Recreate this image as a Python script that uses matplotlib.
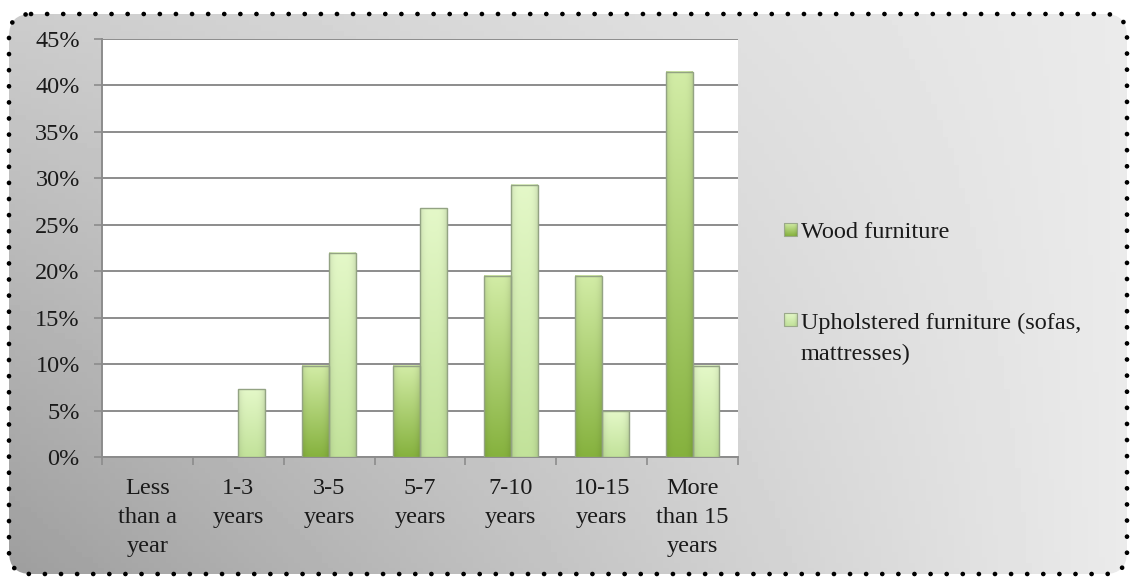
import numpy as np
import matplotlib.pyplot as plt
from matplotlib.patches import FancyBboxPatch, Rectangle
from matplotlib.colors import to_rgb

plt.rcParams['font.family'] = ['Liberation Serif', 'DejaVu Serif']

categories = ['Less\nthan a\nyear', '1-3\nyears', '3-5\nyears', '5-7\nyears',
              '7-10\nyears', '10-15\nyears', 'More\nthan 15\nyears']
wood = [0, 0, 9.8, 9.8, 19.5, 19.5, 41.5]
upholstered = [0, 7.3, 22.0, 26.8, 29.3, 4.9, 9.8]
series_names = ['Wood furniture', 'Upholstered furniture (sofas,\nmattresses)']
yticks = [0, 5, 10, 15, 20, 25, 30, 35, 40, 45]

FS = 17.5


def bar_gradient(bottom, top, n=64):
    # vertical colour ramp with slightly darker sides, like the Excel bevel
    t = np.linspace(1, 0, n)[:, None, None]
    u = np.linspace(-1, 1, 24)[None, :, None]
    c = np.array(to_rgb(bottom)) * (1 - t) + np.array(to_rgb(top)) * t
    c = c * (1 - 0.10 * u ** 4)
    return np.clip(c, 0, 1)


fig = plt.figure(figsize=(11.3, 5.77), dpi=100)

# background panel: grey gradient in a rounded box with a dotted border
bg = fig.add_axes([0, 0, 1, 1])
bg.set_xlim(0, 1130)
bg.set_ylim(577, 0)
bg.axis('off')
xx, yy = np.meshgrid(np.linspace(0, 1, 200), np.linspace(0, 1, 100))
shade = 0.62 + 0.30 * xx + 0.18 * (1 - yy) * (1 - xx)
box = FancyBboxPatch((9, 14), 1118, 560, boxstyle='round,pad=0,rounding_size=22',
                     facecolor='none', edgecolor='none')
bg.add_patch(box)
im = bg.imshow(shade, cmap='gray', vmin=0, vmax=1, extent=(9, 1127, 574, 14),
               aspect='auto', zorder=0)
im.set_clip_path(box)
border = FancyBboxPatch((9, 14), 1118, 560, boxstyle='round,pad=0,rounding_size=22',
                        facecolor='none', edgecolor='black', lw=3.4,
                        linestyle=(0, (0.01, 3.4)), capstyle='round', zorder=2)
bg.add_patch(border)

# legend (marker sits on the first line of each label)
leg_colors = [('#86b23e', '#d2eca6'), ('#c2e29a', '#e4f8c8')]
first_base = [238, 328]
for (c0, c1), name, y in zip(leg_colors, series_names, first_base):
    sq = Rectangle((784, y - 15), 13, 13, facecolor='none', edgecolor='#9aa88a', lw=0.8, zorder=3)
    bg.add_patch(sq)
    bg.imshow(bar_gradient(c0, c1), extent=(784, 797, y - 2, y - 15), aspect='auto', zorder=2)
    last_base = y + 32 * name.count('\n')
    bg.text(801, last_base, name, fontsize=FS, va='baseline', ha='left', color='#1a1a1a',
            linespacing=1.6)

# main chart
ax = fig.add_axes([102 / 1130, 120 / 577, 636 / 1130, 418 / 577])
ax.set_facecolor('white')
x = np.arange(len(categories))
w = 0.295
series = [(wood, x - w / 2, '#86b23e', '#d2eca6'),
          (upholstered, x + w / 2, '#c2e29a', '#e4f8c8')]
for vals, pos, c0, c1 in series:
    bars = ax.bar(pos, vals, width=w, facecolor=c0, edgecolor='#93a383', lw=1, zorder=4)
    for b in bars:
        if b.get_height() <= 0:
            b.set_visible(False)
            continue
        x0 = b.get_x()
        ax.imshow(bar_gradient(c0, c1), extent=(x0, x0 + b.get_width(), 0, b.get_height()),
                  aspect='auto', zorder=3.5, interpolation='bilinear')
        b.set_facecolor('none')

ax.set_xlim(-0.5, len(categories) - 0.5)
ax.set_ylim(0, 45)
ax.set_yticks(yticks)
ax.set_yticklabels([f'{v}%' for v in yticks])
ax.set_xticks(x)
ax.set_xticklabels(categories, linespacing=1.5)
ax.set_xticks(np.arange(-0.5, len(categories)), minor=True)
ax.tick_params(axis='x', which='major', length=0, pad=15, labelsize=FS, labelcolor='#1a1a1a')
ax.tick_params(axis='x', which='minor', length=6, width=1.2, color='#8c8c8c')
ax.tick_params(axis='y', length=6, width=1.2, color='#8c8c8c', pad=10, labelsize=FS,
               labelcolor='#1a1a1a')
ax.yaxis.grid(True, color='#8c8c8c', lw=1.4)
ax.set_axisbelow(True)
for s in ['top', 'right']:
    ax.spines[s].set_visible(False)
for s in ['left', 'bottom']:
    ax.spines[s].set_color('#8c8c8c')
    ax.spines[s].set_linewidth(1.4)

fig.savefig('out.png', dpi=100)
